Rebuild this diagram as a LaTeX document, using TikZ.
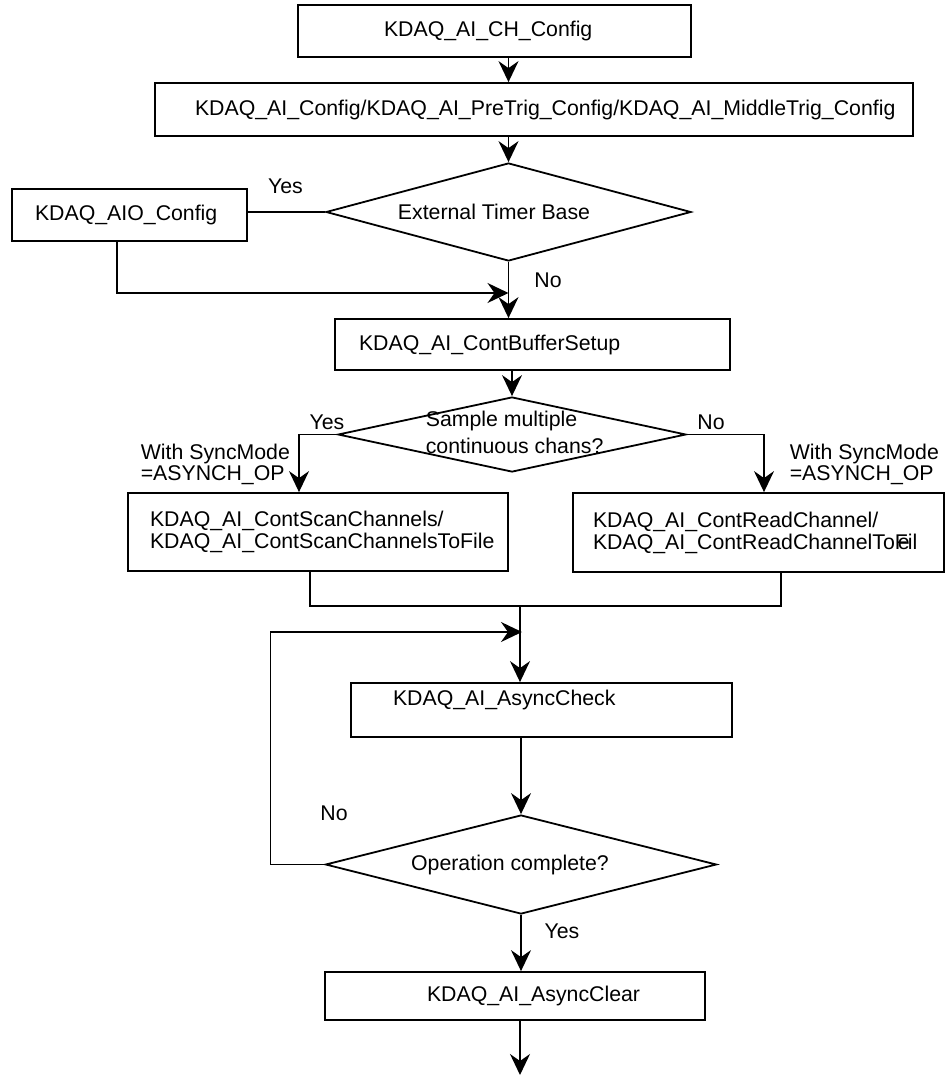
\documentclass[tikz,border=0pt]{standalone}
\usepackage{fontspec}
\setmainfont{Liberation Sans}
\usetikzlibrary{arrows.meta,shapes.geometric}
\tikzset{
  box/.style={draw, line width=1.8pt, inner ysep=0pt, align=flush left},
  decision/.style={draw, diamond, line width=1.8pt, inner sep=0pt},
  arr/.style={-{Stealth[length=21pt,width=20pt,inset=7pt]}},
  txt/.style={inner sep=0pt, align=left}
}
\begin{document}
\begin{tikzpicture}[x=1pt, y=-1pt, line width=1.6pt,
  every node/.style={font=\fontsize{21.3}{22}\selectfont}]
\useasboundingbox (0,0) rectangle (945,1076);

\node[box, minimum height=52pt, text width=221pt, inner xsep=86pt] (cfg) at (494.5,31) {KDAQ\_AI\_CH\_Config};
\node[box, minimum height=53pt, text width=678pt, inner xsep=40pt] (trig) at (534,109.5) {KDAQ\_AI\_Config/KDAQ\_AI\_PreTrig\_Config/KDAQ\_AI\_MiddleTrig\_Config};
\node[decision, minimum width=365pt, minimum height=98pt,
  label={[xshift=-14.5pt]center:External Timer Base}] (ext) at (508.5,212) {};
\node[box, minimum height=52pt, text width=189pt, inner xsep=23pt] (aio) at (129.5,215) {KDAQ\_AIO\_Config};
\node[box, minimum height=51pt, text width=347pt, inner xsep=24pt] (buf) at (532.5,344.5) {KDAQ\_AI\_ContBufferSetup};
\node[decision, minimum width=348pt, minimum height=75pt] (chans) at (512,434.5) {};
\node[txt, anchor=west, font=\fontsize{21.3}{27}\selectfont] (chanstxt) at (425,432) {Sample multiple\\continuous chans?};
\node[box, minimum height=78pt, text width=336pt, inner xsep=22pt] (scan) at (318,532) {KDAQ\_AI\_ContScanChannels/\\KDAQ\_AI\_ContScanChannelsToFile};
\node[box, minimum height=79pt, text width=331pt, inner xsep=20pt] (read) at (758.5,532.5) {KDAQ\_AI\_ContReadChannel/\\KDAQ\_AI\_ContReadChannelTo\rlap{\hspace{3pt}e}Fil};
\node[box, text width=297pt, inner xsep=42pt, inner ysep=4pt, text height=18pt, text depth=28pt] (chk) at (541.5,710) {KDAQ\_AI\_AsyncCheck};
\node[decision, minimum width=391pt, minimum height=99pt,
  label={[xshift=-11pt]center:Operation complete?}] (done) at (521,864.5) {};
\node[box, minimum height=48pt, text width=176pt, inner xsep=102pt] (clr) at (515,996) {KDAQ\_AI\_AsyncClear};

% branch labels
\node (yesA) at (285.5,186) {Yes};
\node (noA) at (548,280) {No};
\node (yesB) at (327,422) {Yes};
\node (noB) at (711,422) {No};
\node[txt, anchor=west, font=\fontsize{21.3}{21}\selectfont] (syncL) at (140,464) {With SyncMode\\=ASYNCH\_OP};
\node[txt, anchor=west, font=\fontsize{21.3}{21}\selectfont] (syncR) at (789,464) {With SyncMode\\=ASYNCH\_OP};
\node (noC) at (334,813) {No};
\node (yesC) at (562,931) {Yes};

\coordinate (j1) at (508.5,293);
\coordinate (j2) at (520,606);
\coordinate (j3) at (522,632);
\coordinate (endp) at (520,1075);

\draw[arr] (cfg.south -| ext.north) -- (ext.north |- trig.north);
\draw[arr] (trig.south -| ext.north) -- (ext.north);
\draw (ext.west) -- (ext.west -| aio.east);
\draw[arr] ([xshift=-12.5pt]aio.south) |- (j1);
\draw[arr] (ext.south) -- (ext.south |- buf.north);
\draw[arr] (buf.south -| chans.north) -- (chans.north);
\draw[arr] (chans.west) -| ([xshift=-19pt]scan.north);
\draw[arr] (chans.east) -| ([xshift=5.5pt]read.north);
\draw ([xshift=-8pt]scan.south) |- (j2) -| ([xshift=22.5pt]read.south);
\draw[arr] (j2) -- (j2 |- chk.north);
\draw[arr] (chk.south -| done.north) -- (done.north);
\draw[arr] (done.west) -- ++(-54,0) |- (j3);
\draw[arr] (done.south) -- (done.south |- clr.north);
\draw[arr] (clr.south -| endp) -- (endp);
\end{tikzpicture}
\end{document}
